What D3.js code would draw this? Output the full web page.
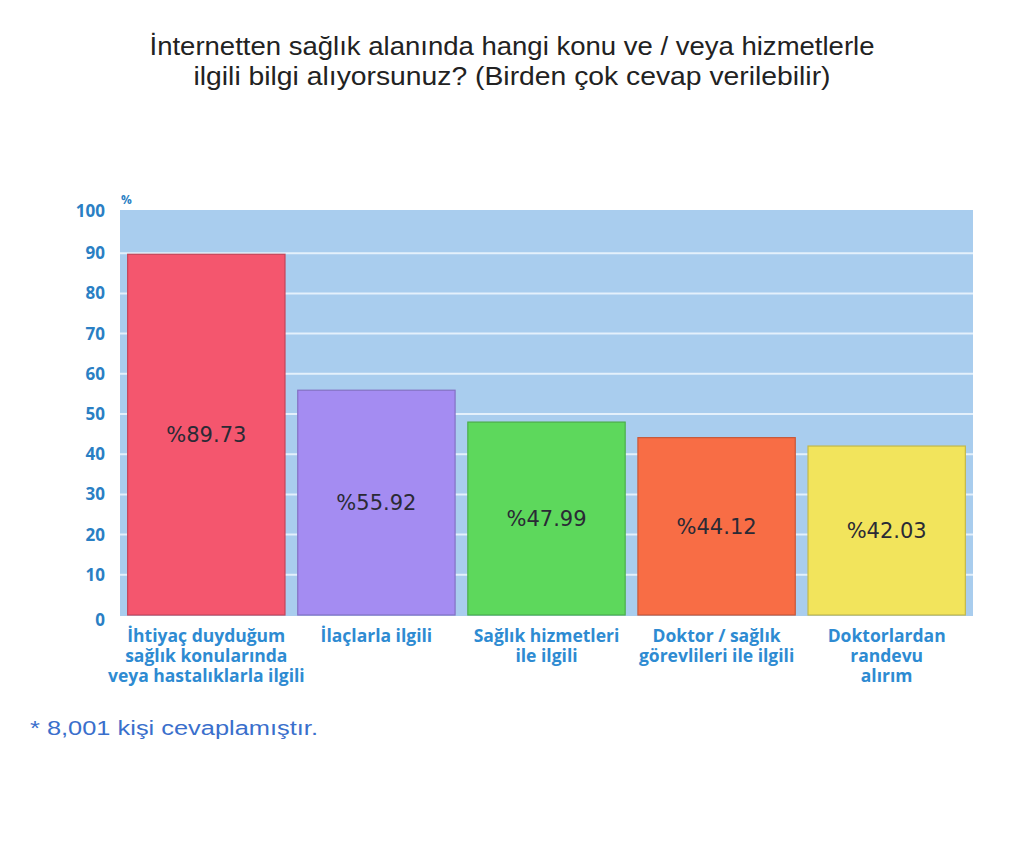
<!DOCTYPE html>
<html><head><meta charset="utf-8">
<script src="https://cdn.jsdelivr.net/npm/d3@7"></script>
<style>body{margin:0;background:#fff}</style>
</head><body>
<svg id="c" width="1024" height="850"></svg>
<script>
const titleLines = ["İnternetten sağlık alanında hangi konu ve / veya hizmetlerle", "ilgili bilgi alıyorsunuz? (Birden çok cevap verilebilir)"];
const categories = [
  ["İhtiyaç duyduğum", "sağlık konularında", "veya hastalıklarla ilgili"],
  ["İlaçlarla ilgili"],
  ["Sağlık hizmetleri", "ile ilgili"],
  ["Doktor / sağlık", "görevlileri ile ilgili"],
  ["Doktorlardan", "randevu", "alırım"]
];
const values = [89.73, 55.92, 47.99, 44.12, 42.03];
const colors = ["#f4566e", "#a48cf2", "#5dd85c", "#f86d45", "#f2e45c"];
const yTicks = [0, 10, 20, 30, 40, 50, 60, 70, 80, 90, 100];
const footnote = "* 8,001 kişi cevaplamıştır.";

const svg = d3.select("#c");
const pLeft = 120, pRight = 973, pTop = 210, pBottom = 616;

const x = d3.scaleBand().domain(d3.range(values.length)).range([pLeft, pRight]).paddingInner(0.075).paddingOuter(0.045);
const y = d3.scaleLinear().domain([0, 100]).range([615, 213]);

// title
const tw = [725, 637];
svg.append("g").selectAll("text").data(titleLines).join("text")
  .attr("x", 512).attr("y", (d, i) => 55 + i * 30)
  .attr("text-anchor", "middle")
  .attr("font-family", "Liberation Sans, Arial, sans-serif")
  .attr("font-size", 25).attr("fill", "#222")
  .attr("textLength", (d, i) => tw[i]).attr("lengthAdjust", "spacingAndGlyphs")
  .text(d => d);

// plot background
svg.append("rect").attr("x", pLeft).attr("y", pTop).attr("width", pRight - pLeft).attr("height", pBottom - pTop).attr("fill", "#a9cdee");

// gridlines
svg.append("g").selectAll("line").data(yTicks.filter(t => t > 0 && t < 100)).join("line")
  .attr("x1", pLeft).attr("x2", pRight).attr("y1", d => y(d)).attr("y2", d => y(d))
  .attr("stroke", "#e4f0fb").attr("stroke-width", 2);

// y axis labels
const yAxis = d3.axisLeft(y).tickValues(yTicks).tickSize(0).tickPadding(0);
const ga = svg.append("g").attr("transform", `translate(105,0)`).call(yAxis);
ga.select(".domain").remove();
ga.selectAll("text").attr("font-family", "Open Sans, sans-serif").attr("font-weight", "bold")
  .attr("font-size", 17).attr("fill", "#2a7fc4");
ga.selectAll(".tick").filter(d => d === 0).select("text").attr("dy", "0.6em");
ga.selectAll(".tick").filter(d => d === 100).select("text").attr("dy", "0.2em");

svg.append("text").attr("x", 121).attr("y", 204).attr("font-family", "Open Sans, sans-serif")
  .attr("font-weight", "bold").attr("font-size", 12).attr("fill", "#2a7fc4").text("%");

// bars
svg.append("g").selectAll("rect").data(values).join("rect")
  .attr("x", (d, i) => x(i)).attr("y", d => y(d)).attr("width", x.bandwidth())
  .attr("height", d => y(0) - y(d))
  .attr("fill", (d, i) => colors[i])
  .attr("stroke", (d, i) => d3.color(colors[i]).darker(0.6)).attr("stroke-width", 1.2);

// value labels
svg.append("g").selectAll("text").data(values).join("text")
  .attr("x", (d, i) => x(i) + x.bandwidth() / 2)
  .attr("y", d => (y(d) + y(0)) / 2)
  .attr("dy", "0.35em").attr("text-anchor", "middle")
  .attr("font-family", "DejaVu Sans, Verdana, sans-serif").attr("font-size", 21)
  .attr("fill", "#2a2a35")
  .text(d => "%" + d.toFixed(2));

// category labels
const cg = svg.append("g").selectAll("text").data(categories).join("text")
  .attr("text-anchor", "middle")
  .attr("font-family", "Open Sans, sans-serif").attr("font-weight", "bold")
  .attr("font-size", 17.5).attr("fill", "#2e8bd2");
cg.selectAll("tspan").data((d, i) => d.map(s => ({ s, i }))).join("tspan")
  .attr("x", d => x(d.i) + x.bandwidth() / 2)
  .attr("y", (d, j) => 642 + j * 20)
  .text(d => d.s);

// footnote
svg.append("text").attr("x", 30).attr("y", 735)
  .attr("font-family", "Liberation Sans, Arial, sans-serif").attr("font-size", 20)
  .attr("textLength", 288).attr("lengthAdjust", "spacingAndGlyphs")
  .attr("fill", "#3a6fcc").text(footnote);
</script>
</body></html>
